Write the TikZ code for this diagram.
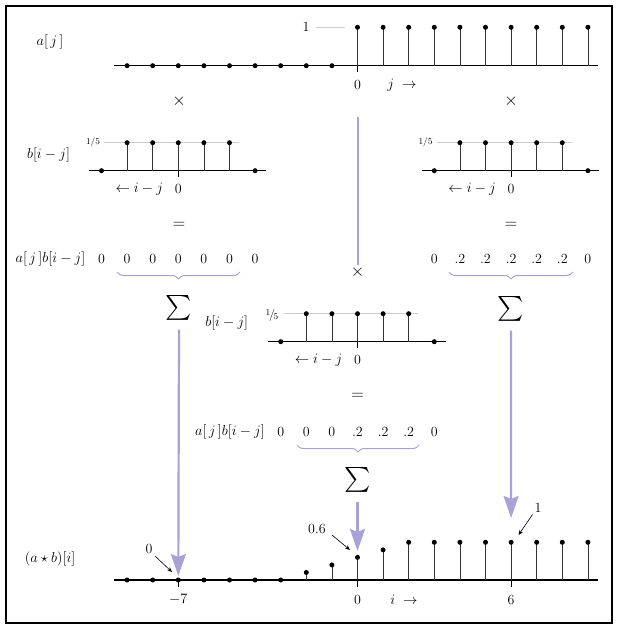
\documentclass[tikz,border=0pt]{standalone}
\usepackage{amsmath}
\usetikzlibrary{decorations.pathreplacing,arrows.meta}
\definecolor{lav}{RGB}{168,162,214}
\begin{document}
\begin{tikzpicture}[x=1pt,y=-1pt,
  axisline/.style={line width=1.3pt,black},
  stemline/.style={line width=0.8pt,black!80},
  guideline/.style={line width=0.7pt,black!20},
  tickline/.style={line width=0.8pt,black},
  seqdot/.style={circle,fill=black,inner sep=0pt,minimum size=5pt},
  lbl/.style={inner sep=0pt,font=\fontsize{14}{16}\selectfont},
  smalllbl/.style={inner sep=0pt,font=\fontsize{9}{10}\selectfont},
  opsym/.style={inner sep=0pt,font=\fontsize{19}{21}\selectfont},
  sumsym/.style={inner sep=0pt,font=\fontsize{25}{27}\selectfont},
  flowarrow/.style={draw=lav,line width=2.2pt,-{Stealth[length=22pt,width=15pt,inset=3pt]}},
  flowline/.style={draw=lav,line width=2pt},
  bracestyle/.style={draw=lav,line width=1pt,decorate,decoration={brace,mirror,amplitude=7pt}},
  notearrow/.style={draw=black,line width=0.6pt,-{Stealth[length=5pt,width=4pt]}}
]
\useasboundingbox (0,0) rectangle (618,628);
\draw[line width=2pt] (6,6) rectangle (612,623);

\def\U{25.6}
\def\X{357.5}

% ---------- a[j] ----------
\node[lbl] (alab) at (50,42) {$a[\,j\,]$};
\draw[axisline] (114,65.7) -- (598,65.7);
\draw[tickline] (\X,65.7) -- (\X,72);
\draw[guideline] (316,27.3) -- (345,27.3);
\node[lbl] (one) at (306,27.3) {1};
\foreach \k in {-9,...,-1} \node[seqdot] at (\X+\k*\U,65.7) {};
\foreach \k in {0,...,9} {
  \draw[stemline] (\X+\k*\U,65.7) -- (\X+\k*\U,27.3);
  \node[seqdot] at (\X+\k*\U,27.3) {};
}
\node[lbl] (azero) at (\X,85) {0};
\node[lbl] (jarr) at (402,85) {$j\;\rightarrow$};

% ---------- b windows ----------
\foreach \z/\ay in {-7/170.7, 6/170.7, 0/341.7} {
  \pgfmathsetmacro\zx{\X+\z*\U}
  \draw[guideline] (\zx-74,\ay-28) -- (\zx+60.5,\ay-28);
  \draw[axisline] (\zx-89.5,\ay) -- (\zx+88,\ay);
  \draw[tickline] (\zx,\ay) -- (\zx,\ay+6);
  \node[seqdot] at (\zx-3*\U,\ay) {};
  \node[seqdot] at (\zx+3*\U,\ay) {};
  \foreach \k in {-2,...,2} {
    \draw[stemline] (\zx+\k*\U,\ay) -- (\zx+\k*\U,\ay-28);
    \node[seqdot] at (\zx+\k*\U,\ay-28) {};
  }
  \node[lbl] at (\zx-39,\ay+18.5) {$\leftarrow i-j$};
  \node[lbl] at (\zx,\ay+18.5) {0};
}
\node[smalllbl] (fl) at (93,142.7) {1/5};
\node[smalllbl] (fr) at (425.5,142.7) {1/5};
\node[inner sep=0pt] (fc) at (272,315)
  {\raisebox{3pt}{\fontsize{9}{10}\selectfont 1}\kern-1.2pt{\fontsize{12}{14}\selectfont/}\kern-1.2pt\raisebox{-1.5pt}{\fontsize{9}{10}\selectfont 5}};
\node[lbl] (bl) at (48.5,155) {$b[i-j]$};
\node[lbl] (bc) at (226.7,323) {$b[i-j]$};

% ---------- operators ----------
\node[opsym] (timesL) at (179,101) {$\times$};
\node[opsym] (timesR) at (511,101) {$\times$};
\node[opsym] (timesC) at (\X,272) {$\times$};
\node[opsym] (eqL) at (179,225) {$=$};
\node[opsym] (eqR) at (511,225) {$=$};
\node[opsym] (eqC) at (\X,396) {$=$};
\coordinate (vtop) at (\X,117);
\coordinate (vbot) at (\X,265);
\draw[flowline] (vtop) -- (vbot);

% ---------- product rows ----------
\node[lbl] (prodL) at (50.5,259) {$a[\,j\,]b[i-j]$};
\foreach \k/\v in {-10/0,-9/0,-8/0,-7/0,-6/0,-5/0,-4/0}
  \node[lbl] at (\X+\k*\U,259) {\v};
\foreach \k/\v in {3/0,4/.2,5/.2,6/.2,7/.2,8/.2,9/0}
  \node[lbl] at (\X+\k*\U,259) {\v};
\node[lbl] (prodC) at (230,431.7) {$a[\,j\,]b[i-j]$};
\foreach \k/\v in {-3/0,-2/0,-1/0,0/.2,1/.2,2/.2,3/0}
  \node[lbl] at (\X+\k*\U,431.7) {\v};

\draw[bracestyle] (117,272) -- (240,272);
\draw[bracestyle] (449,272) -- (573,272);
\draw[bracestyle] (297,445) -- (419,445);

\node[sumsym] (sumL) at (179,308) {$\sum$};
\node[sumsym] (sumR) at (511,309) {$\sum$};
\node[sumsym] (sumC) at (\X,480) {$\sum$};

% ---------- result ----------
\node[lbl] (clab) at (50,559) {$(a\star b)[i]$};
\draw[axisline] (114,580) -- (598,580);
\foreach \k in {-7,0,6} \draw[tickline] (\X+\k*\U,580) -- (\X+\k*\U,586.5);
\foreach \k in {-9,...,-3} \node[seqdot] at (\X+\k*\U,580) {};
\foreach \k/\v in {-2/0.2,-1/0.4,0/0.6,1/0.8,2/1,3/1,4/1,5/1,6/1,7/1,8/1,9/1} {
  \draw[stemline] (\X+\k*\U,580) -- (\X+\k*\U,580-37.7*\v);
  \node[seqdot] at (\X+\k*\U,580-37.7*\v) {};
}
\node[lbl] (m7) at (\X-7*\U,599.5) {$-7$};
\node[lbl] (r0) at (\X,599.5) {0};
\node[lbl] (iarr) at (404,599.5) {$i\;\rightarrow$};
\node[lbl] (r6) at (\X+6*\U,599.5) {6};

% flow arrows
\coordinate (tipL) at (\X-7*\U,576);
\coordinate (tipR) at (\X+6*\U,518);
\coordinate (tipC) at (\X,551);
\draw[flowarrow] ([yshift=-9pt]sumL.south) -- (tipL);
\draw[flowarrow] ([yshift=-9pt]sumR.south) -- (tipR);
\draw[flowarrow] ([yshift=-9pt]sumC.south) -- (tipC);

% annotations
\node[lbl] (nzero) at (149,548.5) {0};
\node[lbl] (nsix) at (317,528.5) {0.6};
\node[lbl] (none) at (538,508) {1};
\coordinate (pz) at (172,572);
\coordinate (ps) at (350,550);
\coordinate (po) at (518.5,535);
\draw[notearrow] (155,556) -- (pz);
\draw[notearrow] (332,535) -- (ps);
\draw[notearrow] (532.5,514.5) -- (po);
\end{tikzpicture}
\end{document}
